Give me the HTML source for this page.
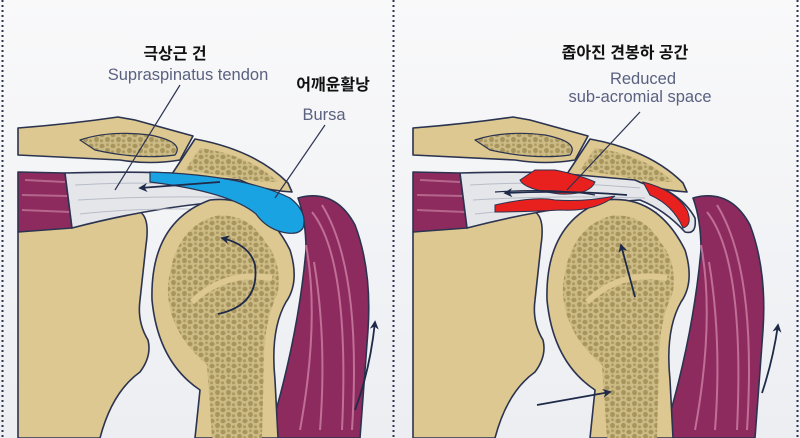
<!DOCTYPE html>
<html><head><meta charset="utf-8"><style>
html,body{margin:0;padding:0;background:#f4f5f7;}
svg{display:block}
</style></head><body>
<svg width="800" height="438" viewBox="0 0 800 438" xmlns="http://www.w3.org/2000/svg">
<defs>
<linearGradient id="bg" x1="0" y1="0" x2="0" y2="1"><stop offset="0" stop-color="#f9f9fa"/><stop offset="1" stop-color="#eceef2"/></linearGradient>
<pattern id="can" width="11" height="11" patternUnits="userSpaceOnUse">
<rect width="11" height="11" fill="#cdbb86"/>
<ellipse cx="3" cy="3" rx="2.6" ry="2.2" fill="#a8955d"/><ellipse cx="8.5" cy="7.5" rx="2.4" ry="2.6" fill="#a8955d"/><circle cx="8.5" cy="1.8" r="1.4" fill="#ad9b63"/><circle cx="2.5" cy="8.8" r="1.6" fill="#ad9b63"/>
</pattern>
<marker id="ah" viewBox="0 0 10 10" refX="8" refY="5" markerWidth="5" markerHeight="5" orient="auto"><path d="M0,0 L10,5 L0,10 L3,5 Z" fill="#1f2a48"/></marker>
<g id="base" stroke="#2b3350" stroke-width="1.6" stroke-linejoin="round">
 <path d="M18,232 L140,212 Q150,218 146,245 L140,300 Q137,322 148,340 Q152,356 140,372 Q112,392 100,438 L18,438 Z" fill="#dcc890"/>
 <path d="M18,172 L65,173 L72,228 L18,232 Z" fill="#8e2b5e"/>
 <path d="M25,180 L65,182 M22,195 L68,196 M22,210 L70,212" stroke="#b4668c" stroke-width="2" fill="none"/>
 <path d="M65,173 Q170,170 240,178 Q285,190 300,218 Q302,235 290,232 Q270,210 245,200 Q160,205 72,228 Z" fill="#e4e6ea"/>
 <path d="M75,185 Q160,180 245,188 M78,200 Q160,195 250,198 M80,214 Q160,205 262,212" stroke="#b8bcc6" stroke-width="1" fill="none"/>
 <path d="M18,128 Q70,124 118,117 L135,120 L193,136 L180,160 Q150,165 120,160 L18,155 Z" fill="#dcc890"/>
 <path d="M80,140 Q110,130 150,135 Q185,142 175,155 Q140,160 95,150 Z" fill="url(#can)" stroke="#2b3350" stroke-width="1.2"/>
 <path d="M195,139 Q255,150 288,183 L292,192 Q260,190 240,180 L172,174 Z" fill="#dcc890"/>
 <path d="M200,148 Q250,155 278,182 Q250,182 225,176 L185,170 Z" fill="url(#can)" stroke="none"/>
 <path d="M298,198 Q335,188 355,225 Q372,270 368,330 L360,438 L268,438 Q298,340 306,250 Q306,220 298,198 Z" fill="#8e2b5e"/>
 <path d="M312,212 Q350,260 342,430 M322,205 Q362,270 352,430 M306,245 Q320,320 300,430 M314,262 Q327,340 320,430" stroke="#c06f97" stroke-width="2" fill="none"/>
 <path d="M195,438 L200,390 Q158,362 152,300 Q150,222 210,200 Q262,194 290,250 Q300,282 286,302 Q270,330 275,380 L278,438 Z" fill="#dcc890"/>
 <path d="M212,438 L207,365 Q166,330 168,285 Q174,228 215,216 Q248,212 266,243 Q282,262 278,292 Q264,322 264,360 L262,438 Z" fill="url(#can)" stroke="none"/>
 <path d="M192,302 Q225,270 272,278" fill="none" stroke="#dcc890" stroke-width="6"/>
</g>
</defs>
<rect width="800" height="438" fill="url(#bg)"/>
<line x1="2.5" y1="0" x2="2.5" y2="438" stroke="#2b3350" stroke-width="2" stroke-dasharray="2 3"/>
<line x1="393.5" y1="0" x2="393.5" y2="438" stroke="#2b3350" stroke-width="2" stroke-dasharray="2 3"/>
<line x1="797.5" y1="0" x2="797.5" y2="438" stroke="#2b3350" stroke-width="2" stroke-dasharray="2 3"/>

<use href="#base"/>
<path d="M150,172 L172,173 Q250,178 290,198 Q308,212 303,228 Q298,236 282,232 Q266,228 256,214 Q230,192 150,182 Z" fill="#1aa3e3" stroke="#2b3350" stroke-width="1.2"/>
<path d="M220,182 L140,188" stroke="#1f2a48" stroke-width="1.8" fill="none" marker-end="url(#ah)"/>
<path d="M218,314 Q260,305 255,265 Q250,245 222,238" stroke="#1f2a48" stroke-width="1.8" fill="none" marker-end="url(#ah)"/>
<path d="M355,410 Q370,370 375,322" stroke="#1f2a48" stroke-width="1.8" fill="none" marker-end="url(#ah)"/>
<line x1="180" y1="85" x2="115" y2="190" stroke="#2b3350" stroke-width="1.2"/>
<line x1="325" y1="125" x2="275" y2="198" stroke="#2b3350" stroke-width="1.2"/>
<text x="175" y="59" text-anchor="middle" font-family="Liberation Sans, Noto Sans CJK KR, sans-serif" font-weight="bold" font-size="16" fill="#111">극상근 건</text>
<text x="188" y="80" text-anchor="middle" font-family="Liberation Sans, sans-serif" font-size="16.5" fill="#5a6180">Supraspinatus tendon</text>
<text x="333" y="90" text-anchor="middle" font-family="Liberation Sans, Noto Sans CJK KR, sans-serif" font-weight="bold" font-size="16" fill="#111">어깨윤활낭</text>
<text x="324" y="120" text-anchor="middle" font-family="Liberation Sans, sans-serif" font-size="16.5" fill="#5a6180">Bursa</text>

<g transform="translate(395,0)">
<use href="#base"/>
<path d="M140,170 L160,170 Q185,175 200,182 Q195,195 165,194 Q130,190 125,180 Z" fill="#e8201e" stroke="#2b3350" stroke-width="1"/>
<path d="M100,205 Q140,196 160,200 Q190,202 220,196 Q200,212 165,210 Q130,212 100,212 Z" fill="#e8201e" stroke="#2b3350" stroke-width="1"/>
<path d="M248,182 Q280,190 292,210 Q298,225 288,228 Q278,205 255,195 Z" fill="#e8201e" stroke="#2b3350" stroke-width="1"/>
<path d="M100,192 Q160,188 200,195" stroke="#1f2a48" stroke-width="1.2" fill="none"/>
<path d="M232,195 Q170,190 110,193" stroke="#1f2a48" stroke-width="1.8" fill="none" marker-end="url(#ah)"/>
<path d="M240,297 L226,245" stroke="#1f2a48" stroke-width="1.8" fill="none" marker-end="url(#ah)"/>
<path d="M142,405 L215,392" stroke="#1f2a48" stroke-width="1.8" fill="none" marker-end="url(#ah)"/>
<path d="M367,393 Q378,360 383,325" stroke="#1f2a48" stroke-width="1.8" fill="none" marker-end="url(#ah)"/>
<line x1="245" y1="112" x2="172" y2="190" stroke="#2b3350" stroke-width="1.2"/>
</g>
<text x="625" y="58" text-anchor="middle" font-family="Liberation Sans, Noto Sans CJK KR, sans-serif" font-weight="bold" font-size="16" fill="#111">좁아진 견봉하 공간</text>
<text x="643" y="84" text-anchor="middle" font-family="Liberation Sans, sans-serif" font-size="16.5" fill="#5a6180">Reduced</text>
<text x="640" y="102" text-anchor="middle" font-family="Liberation Sans, sans-serif" font-size="16.5" fill="#5a6180">sub-acromial space</text>
</svg>
</body></html>
